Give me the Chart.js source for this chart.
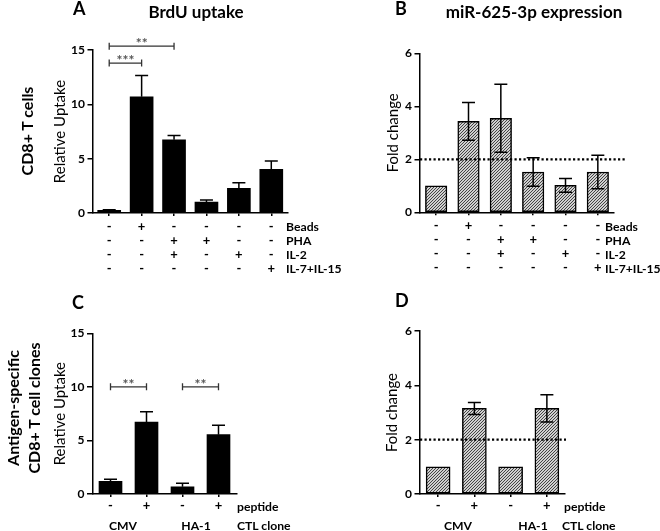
<!DOCTYPE html>
<html><head><meta charset="utf-8">
<script src="https://cdn.jsdelivr.net/npm/chart.js@4.4.1/dist/chart.umd.min.js"></script>
<style>
body{margin:0;background:#fff;width:660px;height:531px;position:relative;overflow:hidden;font-family:Lato,'Liberation Sans',sans-serif;}
canvas{position:absolute;}
.t{position:absolute;white-space:nowrap;font-weight:bold;color:#000;line-height:1;}
.c{transform:translate(-50%,-50%);}
.l{transform:translateY(-50%);}
.r{transform:translate(-50%,-50%) rotate(-90deg);}
.tt{font-size:17px;}
.side{font-size:16px;}
.let{font-size:18px;}
.row{font-size:12.2px;}
</style></head><body>
<canvas id="cA" width="300" height="290" style="left:0;top:0"></canvas>
<canvas id="cB" width="300" height="290" style="left:330px;top:0"></canvas>
<canvas id="cC" width="300" height="250" style="left:0;top:280px"></canvas>
<canvas id="cD" width="300" height="250" style="left:330px;top:280px"></canvas>

<div class="t let l" style="left:73px;top:8px">A</div>
<div class="t tt c" style="left:196px;top:11px">BrdU uptake</div>
<div class="t let l" style="left:395px;top:8px">B</div>
<div class="t tt c" style="left:534px;top:11px">miR-625-3p expression</div>
<div class="t let l" style="left:72px;top:302px">C</div>
<div class="t let l" style="left:395px;top:300px">D</div>
<div class="t side r" style="left:27px;top:131px">CD8+ T cells</div>
<div class="t side r" style="left:13px;top:408px">Antigen-specific</div>
<div class="t side r" style="left:34px;top:408px">CD8+ T cell clones</div>
<div id="rowsA"></div><div id="rowsB"></div><div id="rowsCD"></div>

<script>
// ---------- data ----------
const conditionRows = ['Beads', 'PHA', 'IL-2', 'IL-7+IL-15'];
const conditionCols = [
  ['-', '-', '-', '-'],
  ['+', '-', '-', '-'],
  ['-', '+', '+', '-'],
  ['-', '+', '-', '-'],
  ['-', '-', '+', '-'],
  ['-', '-', '-', '+']
];
const brduCD8 = [0.25, 10.7, 6.73, 1.0, 2.27, 4.02];
const brduCD8Err = [0.06, 1.95, 0.4, 0.2, 0.52, 0.77];
const mirCD8 = [1.0, 3.43, 3.55, 1.52, 1.02, 1.52];
const mirCD8Err = [0, 0.71, 1.28, 0.54, 0.26, 0.63];

const peptide = ['-', '+', '-', '+'];
const cloneNames = ['CMV', 'HA-1'];
const brduClone = [1.18, 6.72, 0.68, 5.54];
const brduCloneErr = [0.19, 0.96, 0.32, 0.87];
const mirClone = [1.0, 3.15, 1.0, 3.15];
const mirCloneErr = [0, 0.22, 0, 0.5];

const sigA = [{from: 0, to: 1, y: 13.8, label: '***'}, {from: 0, to: 2, y: 15.35, label: '**'}];
const sigC = [{from: 0, to: 1, y: 10, label: '**'}, {from: 2, to: 3, y: 10, label: '**'}];
const foldThreshold = 2;
const uptakeMax = 15, uptakeStep = 5;
const foldMax = 6, foldStep = 2;

// ---------- helpers ----------
const F = "Lato, 'Liberation Sans', sans-serif";

function hatch() {
  const c = document.createElement('canvas');
  c.width = 3; c.height = 3;
  const g = c.getContext('2d');
  g.fillStyle = '#d0d0d0'; g.fillRect(0, 0, 3, 3);
  g.strokeStyle = '#444'; g.lineWidth = 1;
  g.beginPath();
  g.moveTo(-1, 1); g.lineTo(1, -1);
  g.moveTo(0, 3); g.lineTo(3, 0);
  g.moveTo(2, 4); g.lineTo(4, 2);
  g.stroke();
  return g.createPattern(c, 'repeat');
}

const overlay = {
  id: 'overlay',
  afterDatasetsDraw(chart, args, o) {
    const ctx = chart.ctx, ys = chart.scales.y, xs = chart.scales.x, ca = chart.chartArea;
    const meta = chart.getDatasetMeta(0);
    const vals = chart.data.datasets[0].data;
    ctx.save();
    ctx.strokeStyle = '#000'; ctx.lineWidth = 1.5; ctx.lineCap = 'butt';
    o.errors.forEach((e, i) => {
      if (!e) return;
      const x = meta.data[i].x;
      const yT = ys.getPixelForValue(vals[i] + e);
      const yB = o.both ? ys.getPixelForValue(vals[i] - e) : ys.getPixelForValue(vals[i]);
      ctx.beginPath();
      ctx.moveTo(x, yT); ctx.lineTo(x, yB);
      ctx.moveTo(x - o.cap, yT); ctx.lineTo(x + o.cap, yT);
      if (o.both) { ctx.moveTo(x - o.cap, yB); ctx.lineTo(x + o.cap, yB); }
      ctx.stroke();
    });
    if (o.threshold != null) {
      const y = ys.getPixelForValue(o.threshold);
      ctx.setLineDash([2.2, 2.3]); ctx.lineWidth = 2.2;
      ctx.beginPath(); ctx.moveTo(ca.left, y); ctx.lineTo(ca.right + o.thExt, y); ctx.stroke();
      ctx.setLineDash([]);
    }
    (o.sig || []).forEach(s => {
      const x1 = xs.getPixelForValue(s.from), x2 = xs.getPixelForValue(s.to);
      const y = ys.getPixelForValue(s.y);
      ctx.strokeStyle = '#333'; ctx.lineWidth = 1.3;
      ctx.beginPath();
      ctx.moveTo(x1, y); ctx.lineTo(x2, y);
      ctx.moveTo(x1, y - 3.5); ctx.lineTo(x1, y + 3.5);
      ctx.moveTo(x2, y - 3.5); ctx.lineTo(x2, y + 3.5);
      ctx.stroke();
      ctx.fillStyle = '#555'; ctx.font = 'bold 14px ' + F;
      ctx.textAlign = 'center'; ctx.textBaseline = 'alphabetic';
      ctx.fillText(s.label, (x1 + x2) / 2, y + 2);
    });
    ctx.restore();
  }
};

function makeChart(id, o) {
  return new Chart(document.getElementById(id), {
    type: 'bar',
    data: {
      labels: o.labels,
      datasets: [{data: o.values, backgroundColor: o.fill, borderColor: '#000',
        borderWidth: o.border, barThickness: o.barW, borderSkipped: false}]
    },
    options: {
      responsive: false, animation: false, events: [],
      layout: {padding: o.pad},
      plugins: {
        legend: {display: false}, tooltip: {enabled: false},
        overlay: {errors: o.errors, both: o.both, cap: 6.5, threshold: o.threshold, thExt: o.thExt || 0, sig: o.sig}
      },
      scales: {
        x: {
          grid: {display: true, drawOnChartArea: false, drawTicks: true, tickLength: 3, offset: false, color: '#000', lineWidth: 1.5},
          border: {display: true, color: '#000', width: 1.5},
          ticks: {color: '#000', font: {family: F, size: 13, weight: 'bold', lineHeight: '14.2px'}, padding: o.xPad, maxRotation: 0, autoSkip: false},
          afterFit(s) { s.height = o.xH; }
        },
        y: {
          min: 0, max: o.max,
          ticks: {stepSize: o.step, color: '#000', font: {family: F, size: 12, weight: 'bold'}, padding: 2.5},
          grid: {display: true, drawOnChartArea: false, drawTicks: true, tickLength: 5.5, color: '#000', lineWidth: 1.5},
          border: {display: true, color: '#000', width: 1.5},
          title: {display: true, text: o.yTitle, color: '#000', font: {family: F, size: 15}, padding: {top: o.titleOff, bottom: 0}},
          afterFit(s) { s.width = o.yW; }
        }
      }
    },
    plugins: [overlay]
  });
}

const pat = hatch();

makeChart('cA', {labels: conditionCols, values: brduCD8, errors: brduCD8Err, both: false,
  fill: '#000', border: 0, barW: 23, max: uptakeMax, step: uptakeStep, yTitle: 'Relative Uptake',
  pad: {left: 0, top: 50, right: 12.5, bottom: 7}, yW: 93, xH: 70, xPad: 3.6, titleOff: 51, sig: sigA});

makeChart('cB', {labels: conditionCols, values: mirCD8, errors: mirCD8Err, both: true,
  fill: pat, border: 1.5, barW: 21.5, max: foldMax, step: foldStep, yTitle: 'Fold change',
  pad: {left: 0, top: 53.3, right: 16, bottom: 7.7}, yW: 90, xH: 70, xPad: 3.3, titleOff: 54,
  threshold: foldThreshold, thExt: 11});

makeChart('cC', {labels: peptide, values: brduClone, errors: brduCloneErr, both: false,
  fill: '#000', border: 0, barW: 23, max: uptakeMax, step: uptakeStep, yTitle: 'Relative Uptake',
  pad: {left: 0, top: 53.3, right: 63.5, bottom: 6}, yW: 92.5, xH: 30, xPad: 1.6, titleOff: 51, sig: sigC});

makeChart('cD', {labels: peptide, values: mirClone, errors: mirCloneErr, both: true,
  fill: pat, border: 1.5, barW: 24, max: foldMax, step: foldStep, yTitle: 'Fold change',
  pad: {left: 0, top: 51, right: 65, bottom: 6}, yW: 90, xH: 30, xPad: 1.9, titleOff: 53,
  threshold: foldThreshold, thExt: 1});

function addText(parent, txt, cls, left, top) {
  const d = document.createElement('div');
  d.className = 't ' + cls; d.textContent = txt;
  d.style.left = left + 'px'; d.style.top = top + 'px';
  document.getElementById(parent).appendChild(d);
}
const rowY = [226.7, 241, 255, 269.3];
conditionRows.forEach((r, i) => { addText('rowsA', r, 'row l', 286, rowY[i]); addText('rowsB', r, 'row l', 605, rowY[i]); });
addText('rowsCD', 'peptide', 'row l', 237, 506.5);
addText('rowsCD', 'peptide', 'row l', 564, 506.5);
addText('rowsCD', cloneNames[0], 'row c', 123, 526);
addText('rowsCD', cloneNames[1], 'row c', 196, 526);
addText('rowsCD', 'CTL clone', 'row l', 237, 526);
addText('rowsCD', cloneNames[0], 'row c', 458, 526);
addText('rowsCD', cloneNames[1], 'row c', 533, 526);
addText('rowsCD', 'CTL clone', 'row l', 562, 526);
</script>
</body></html>
